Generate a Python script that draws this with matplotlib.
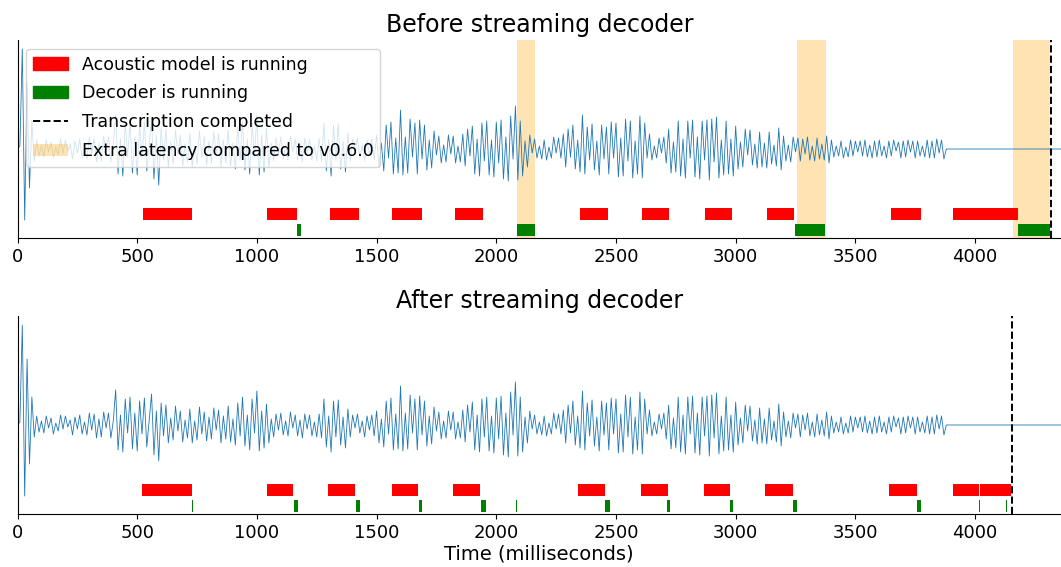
import numpy as np
import matplotlib
matplotlib.use("Agg")
import matplotlib.pyplot as plt
from matplotlib.patches import Patch
from matplotlib.lines import Line2D

# Audio waveform: signed peak values (arbitrary units), one every 10 ms
wave_step_ms = 10
wave = [
    0, 3, 100, -71, 66, -39, 28, -12, 9, -7,
    4, -8, 9, -3, 7, -9, 2, -6, 10, -4,
    9, -2, 5, -10, 8, -4, 10, -9, 3, -10,
    12, -5, 11, -13, 6, -12, 13, -3, 12, -13,
    4, 35, -25, 10, -27, 26, -8, 28, -24, 12,
    -26, 24, -9, 27, -22, 5, 31, -30, 14, -36,
    22, -11, 20, -18, 7, -15, 19, -6, 14, -17,
    5, -13, 16, -18, 4, -15, 18, -9, 13, -16,
    8, -14, 17, -5, 15, -18, 9, -14, 19, -17,
    6, -20, 22, -11, 28, -21, 10, -25, 26, -8,
    34, -26, 14, -23, 21, -18, 6, -12, 11, -5,
    12, -10, 4, -11, 13, -3, 10, -11, 5, -13,
    11, -4, 10, -11, 3, -12, 11, -13, 26, -22,
    9, -27, 24, -12, 25, -20, 8, -23, 16, -12,
    10, -3, 11, -8, 4, -12, 9, -5, 10, -11,
    14, -18, 6, -22, 24, -9, 27, -25, 11, -24,
    39, -26, 12, -24, 30, -8, 26, -25, 29, -10,
    24, -21, 9, -19, 18, -6, 13, -14, 4, -13,
    14, -5, 13, -14, 3, -13, 15, -17, 20, -7,
    23, -25, 10, -27, 26, -12, 28, -26, 9, -28,
    27, -14, 29, -30, 12, -32, 33, -10, 43, -31,
    28, -27, 8, -18, 14, -4, 10, -9, 3, -10,
    9, -11, 2, -9, 12, -4, 11, -9, 15, -18,
    20, -8, 24, -20, 9, -23, 34, -25, 22, -11,
    25, -21, 8, -26, 24, -10, 22, -25, 27, -9,
    26, -28, 11, -27, 30, -12, 28, -29, 8, -25,
    33, -29, 26, -9, 15, -11, 3, -9, 11, -4,
    12, -14, 20, -24, 7, -23, 28, -27, 10, -29,
    28, -9, 29, -28, 12, -30, 28, -11, 29, -31,
    30, -13, 32, -29, 9, -26, 28, -25, 10, -27,
    23, -20, 7, -18, 20, -6, 19, -16, 5, -19,
    17, -18, 6, -19, 17, -15, 4, -17, 21, -21,
    13, -12, 4, -13, 12, -3, 11, -12, 10, -5,
    12, -11, 3, -12, 11, -10, 5, -11, 13, -14,
    9, -8, 3, -7, 8, -9, 2, -8, 9, -7,
    8, -3, 8, -7, 9, -8, 4, -9, 8, -8,
    9, -7, 3, -9, 8, -7, 9, -2, 7, -9,
    8, -8, 9, -3, 8, -9, 8, -7, 3, -8,
    9, -9, 8, -9, 10, -4, 9, -10, 0,
]
silence_end_ms = 4400

# Before streaming decoder (ms)
before_am_start = [526, 1042, 1307, 1566, 1826, 2349, 2608, 2870, 3130, 3649, 3909, 4029]
before_am_end = [731, 1166, 1428, 1688, 1946, 2467, 2722, 2986, 3245, 3773, 4029, 4178]
before_dec_start = [1166, 2088, 3246, 4178]
before_dec_end = [1186, 2162, 3374, 4315]
before_extra_start = [2088, 3255, 4159]
before_extra_end = [2162, 3376, 4315]
before_done = 4319

# After streaming decoder (ms)
after_am_start = [520, 1041, 1299, 1563, 1820, 2340, 2603, 2867, 3124, 3642, 3906, 4020, 4132]
after_am_end = [729, 1152, 1411, 1673, 1933, 2453, 2716, 2977, 3239, 3756, 4016, 4132, 4151]
after_dec_start = [727, 1153, 1412, 1676, 1936, 2083, 2453, 2715, 2978, 3239, 3758, 4016, 4130]
after_dec_end = [733, 1170, 1429, 1691, 1957, 2088, 2476, 2727, 2987, 3258, 3773, 4020, 4134]
after_done = 4153

t = np.arange(len(wave)) * wave_step_ms
t = np.append(t, silence_end_ms)
y = np.append(np.array(wave, dtype=float), 0)


def spans(starts, ends):
    return [(s, e - s) for s, e in zip(starts, ends)]


def draw_panel(ax, title, am_s, am_e, dec_s, dec_e, done, extra_s=None, extra_e=None):
    if extra_s is not None:
        for s, e in zip(extra_s, extra_e):
            ax.axvspan(s, e, color="orange", alpha=0.3, lw=0, zorder=0)
    ax.plot(t, y, color="C0", lw=0.6, zorder=2)
    ax.broken_barh(spans(am_s, am_e), (-71, 12), facecolors="red", zorder=3)
    ax.broken_barh(spans(dec_s, dec_e), (-87, 12), facecolors="green", zorder=3)
    ax.axvline(done, color="k", ls="--", lw=1.4, zorder=4)
    ax.set_xlim(0, 4359)
    ax.set_ylim(-89, 109)
    ax.set_yticks([])
    ax.spines["top"].set_visible(False)
    ax.spines["right"].set_visible(False)
    ax.tick_params(axis="x", labelsize=13)
    ax.set_title(title, fontsize=17)


fig = plt.figure(figsize=(10.61, 5.67), dpi=100)
ax1 = fig.add_axes([0.0165, 0.5802, 0.9835, 0.3493])
ax2 = fig.add_axes([0.0165, 0.0935, 0.9835, 0.3492])

draw_panel(ax1, "Before streaming decoder", before_am_start, before_am_end,
           before_dec_start, before_dec_end, before_done,
           before_extra_start, before_extra_end)
draw_panel(ax2, "After streaming decoder", after_am_start, after_am_end,
           after_dec_start, after_dec_end, after_done)
ax2.set_xlabel("Time (milliseconds)", fontsize=14, labelpad=2)

handles = [
    Patch(color="red"),
    Patch(color="green"),
    Line2D([], [], color="k", ls="--", lw=1.4),
    Patch(color="orange", alpha=0.3, lw=0),
]
labels = ["Acoustic model is running", "Decoder is running",
          "Transcription completed", "Extra latency compared to v0.6.0"]
ax1.legend(handles, labels, loc="upper left", fontsize=12.5, labelspacing=0.62)

fig.savefig("out.png", dpi=100)
